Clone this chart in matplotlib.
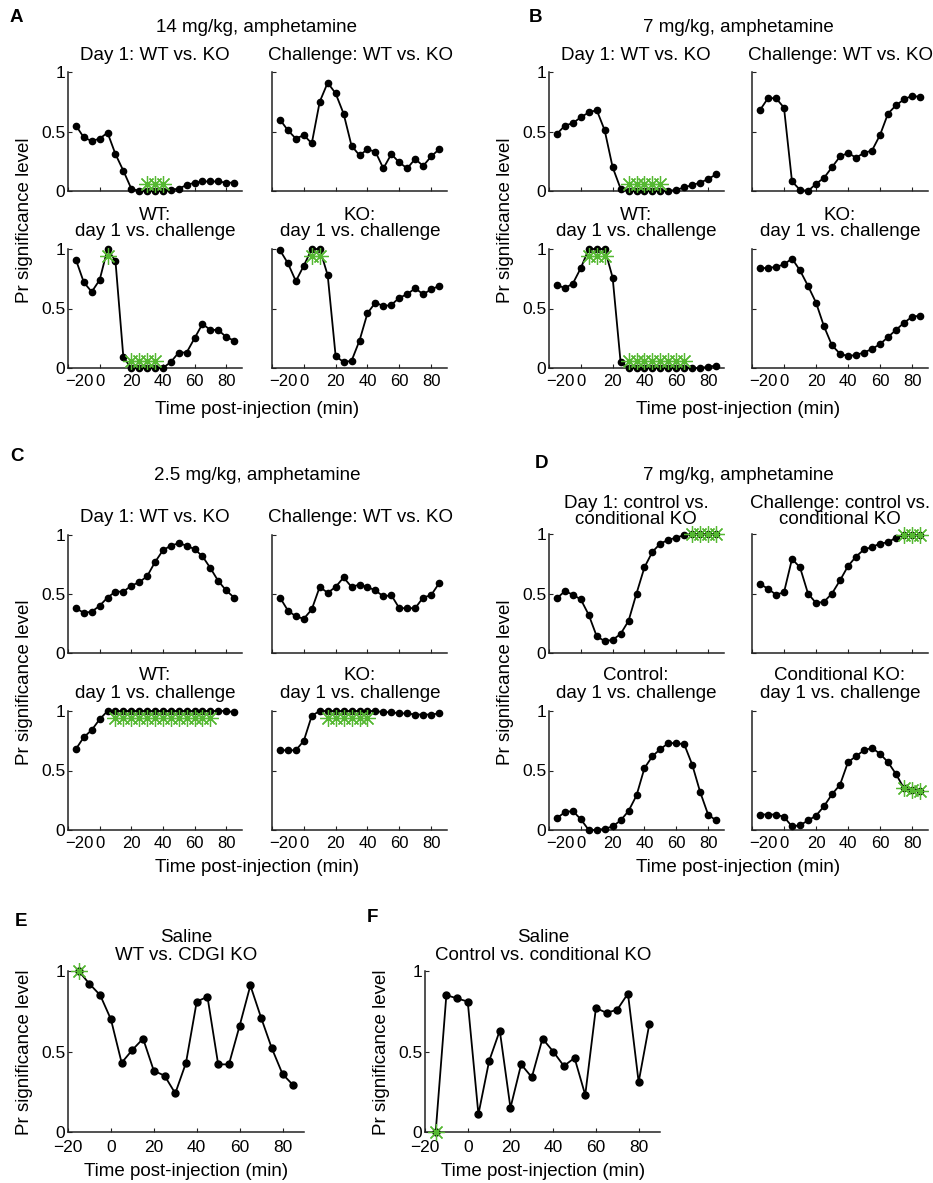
import matplotlib
matplotlib.use('Agg')
import matplotlib.pyplot as plt
from matplotlib.transforms import ScaledTranslation

plt.rcParams['font.family'] = ['Liberation Sans', 'DejaVu Sans']

W, H = 933, 1183
GREEN = '#55b832'

# time points (min post-injection)
t = [-15, -10, -5, 0, 5, 10, 15, 20, 25, 30, 35, 40, 45, 50, 55, 60, 65, 70, 75, 80, 85]

# A: 14 mg/kg amphetamine
a_day1 = [0.55, 0.45, 0.42, 0.44, 0.49, 0.31, 0.17, 0.02, 0.0, 0.0, 0.0, 0.0, 0.01, 0.02, 0.05, 0.07, 0.08, 0.08, 0.08, 0.07, 0.07]
a_chal = [0.60, 0.51, 0.44, 0.47, 0.40, 0.75, 0.91, 0.82, 0.65, 0.38, 0.30, 0.35, 0.33, 0.19, 0.31, 0.24, 0.19, 0.27, 0.21, 0.29, 0.35]
a_wt = [0.91, 0.72, 0.64, 0.74, 1.0, 0.90, 0.09, 0.0, 0.0, 0.0, 0.0, 0.0, 0.05, 0.13, 0.13, 0.25, 0.37, 0.32, 0.32, 0.26, 0.23]
a_ko = [0.99, 0.88, 0.73, 0.86, 1.0, 1.0, 0.78, 0.10, 0.05, 0.06, 0.23, 0.46, 0.55, 0.52, 0.53, 0.59, 0.62, 0.67, 0.62, 0.66, 0.69]
a_day1_sx = [30, 35, 40]
a_day1_sy = [0.06, 0.06, 0.06]
a_wt_sx = [5, 20, 25, 30, 35]
a_wt_sy = [0.94, 0.06, 0.06, 0.06, 0.06]
a_ko_sx = [5, 10]
a_ko_sy = [0.94, 0.94]

# B: 7 mg/kg amphetamine
b_day1 = [0.48, 0.55, 0.57, 0.62, 0.66, 0.68, 0.51, 0.20, 0.02, 0.0, 0.0, 0.0, 0.0, 0.0, 0.0, 0.01, 0.03, 0.05, 0.07, 0.10, 0.14]
b_chal = [0.68, 0.78, 0.78, 0.70, 0.08, 0.01, 0.0, 0.06, 0.11, 0.20, 0.29, 0.32, 0.28, 0.32, 0.34, 0.47, 0.65, 0.72, 0.77, 0.80, 0.79]
b_wt = [0.70, 0.67, 0.71, 0.84, 1.0, 1.0, 1.0, 0.76, 0.05, 0.0, 0.0, 0.0, 0.0, 0.0, 0.0, 0.0, 0.0, 0.0, 0.0, 0.01, 0.02]
b_ko = [0.84, 0.84, 0.85, 0.87, 0.92, 0.82, 0.69, 0.55, 0.35, 0.19, 0.12, 0.10, 0.11, 0.13, 0.16, 0.20, 0.26, 0.32, 0.38, 0.43, 0.44]
b_day1_sx = [30, 35, 40, 45, 50]
b_day1_sy = [0.06, 0.06, 0.06, 0.06, 0.06]
b_wt_sx = [5, 10, 15, 30, 35, 40, 45, 50, 55, 60, 65]
b_wt_sy = [0.94, 0.94, 0.94, 0.06, 0.06, 0.06, 0.06, 0.06, 0.06, 0.06, 0.06]

# C: 2.5 mg/kg amphetamine
c_day1 = [0.38, 0.34, 0.35, 0.40, 0.47, 0.52, 0.52, 0.57, 0.60, 0.65, 0.77, 0.87, 0.91, 0.93, 0.91, 0.88, 0.82, 0.72, 0.61, 0.53, 0.47]
c_chal = [0.47, 0.36, 0.31, 0.29, 0.37, 0.56, 0.51, 0.56, 0.64, 0.56, 0.58, 0.56, 0.53, 0.48, 0.49, 0.38, 0.38, 0.38, 0.47, 0.49, 0.59]
c_wt = [0.68, 0.78, 0.84, 0.93, 1.0, 1.0, 1.0, 1.0, 1.0, 1.0, 1.0, 1.0, 1.0, 1.0, 1.0, 1.0, 1.0, 1.0, 1.0, 1.0, 0.99]
c_ko = [0.67, 0.67, 0.67, 0.75, 0.96, 1.0, 1.0, 1.0, 1.0, 1.0, 1.0, 1.0, 1.0, 0.99, 0.99, 0.98, 0.98, 0.97, 0.97, 0.97, 0.98]
c_wt_sx = [10, 15, 20, 25, 30, 35, 40, 45, 50, 55, 60, 65, 70]
c_wt_sy = [0.94, 0.94, 0.94, 0.94, 0.94, 0.94, 0.94, 0.94, 0.94, 0.94, 0.94, 0.94, 0.94]
c_ko_sx = [15, 20, 25, 30, 35, 40]
c_ko_sy = [0.94, 0.94, 0.94, 0.94, 0.94, 0.94]

# D: 7 mg/kg amphetamine, conditional KO
d_day1 = [0.46, 0.52, 0.49, 0.45, 0.32, 0.14, 0.10, 0.11, 0.16, 0.27, 0.50, 0.72, 0.85, 0.92, 0.95, 0.97, 0.99, 1.0, 1.0, 1.0, 1.0]
d_chal = [0.58, 0.54, 0.49, 0.51, 0.79, 0.72, 0.50, 0.42, 0.43, 0.50, 0.61, 0.73, 0.81, 0.87, 0.89, 0.92, 0.93, 0.97, 0.99, 0.99, 0.99]
d_ctrl = [0.10, 0.15, 0.16, 0.09, 0.0, 0.0, 0.01, 0.03, 0.08, 0.16, 0.29, 0.52, 0.62, 0.68, 0.73, 0.73, 0.72, 0.55, 0.32, 0.13, 0.08]
d_cko = [0.13, 0.13, 0.13, 0.11, 0.03, 0.04, 0.08, 0.12, 0.20, 0.30, 0.38, 0.57, 0.62, 0.67, 0.69, 0.64, 0.57, 0.47, 0.35, 0.34, 0.33]
d_day1_sx = [70, 75, 80, 85]
d_day1_sy = [1.0, 1.0, 1.0, 1.0]
d_chal_sx = [75, 80, 85]
d_chal_sy = [0.99, 0.99, 0.99]
d_cko_sx = [75, 80, 85]
d_cko_sy = [0.35, 0.34, 0.33]

# E, F: saline
e_sal = [1.0, 0.92, 0.85, 0.70, 0.43, 0.51, 0.58, 0.38, 0.35, 0.24, 0.43, 0.81, 0.84, 0.42, 0.42, 0.66, 0.91, 0.71, 0.52, 0.36, 0.29]
f_sal = [0.0, 0.85, 0.83, 0.81, 0.11, 0.44, 0.63, 0.15, 0.42, 0.34, 0.58, 0.50, 0.41, 0.46, 0.23, 0.77, 0.74, 0.76, 0.86, 0.31, 0.67]
e_sx = [-15]
e_sy = [1.0]
f_sx = [-15]
f_sy = [0.0]

fig = plt.figure(figsize=(W / 100, H / 100), dpi=100)


def make_ax(l, top, r, bot):
    return fig.add_axes([l / W, 1 - bot / H, (r - l) / W, (bot - top) / H])


def ftext(x, y, s, **kw):
    kw.setdefault('fontsize', 13.5)
    kw.setdefault('ha', 'center')
    kw.setdefault('va', 'center')
    fig.text(x / W, 1 - y / H, s, **kw)


def panel(box, y, sx=None, sy=None, xlab=True, ylab=True, ms=4.5, big=False):
    ax = make_ax(*box)
    ax.plot(t, y, '-o', color='black', lw=1.3, ms=ms, clip_on=False, zorder=3)
    if sx is not None:
        ax.plot(sx, sy, ls='none', marker=(8, 2, 0), ms=12, mec=GREEN, mew=0.9,
                clip_on=False, zorder=4)
    ax.set_xlim(-20, 90)
    ax.set_ylim(0, 1)
    ax.set_xticks([-20, 0, 20, 40, 60, 80])
    ax.set_yticks([0, 0.5, 1])
    ax.set_yticklabels(['0', '0.5', '1'] if ylab else [])
    if not xlab:
        ax.set_xticklabels([])
    for s in ['top', 'right']:
        ax.spines[s].set_visible(False)
    for s in ['left', 'bottom']:
        ax.spines[s].set_color('#222222')
        ax.spines[s].set_linewidth(1.1)
    ax.tick_params(direction='in', length=3, width=0.8, labelsize=12.5, pad=2,
                   colors='#222222', labelcolor='black')
    ax.tick_params(axis='x', pad=6 if big else 4, labelsize=12 if not big else 12.5)
    if xlab and not big:
        # first x label sits right of the spine, clear of the y "0"
        lab = ax.xaxis.get_major_ticks()[0].label1
        lab.set_transform(lab.get_transform() + ScaledTranslation(0.11, 0, fig.dpi_scale_trans))
    ax.patch.set_alpha(0)
    return ax


# ---- A ----
panel((68, 72, 242, 191), a_day1, a_day1_sx, a_day1_sy, xlab=False)
panel((272, 72, 447, 191), a_chal, xlab=False, ylab=False)
panel((68, 249, 242, 368), a_wt, a_wt_sx, a_wt_sy)
panel((272, 249, 447, 368), a_ko, a_ko_sx, a_ko_sy, ylab=False)
ftext(16, 17, 'A', fontweight='bold', fontsize=13.5)
ftext(257, 28, '14 mg/kg, amphetamine')
ftext(155, 55, 'Day 1: WT vs. KO')
ftext(360, 55, 'Challenge: WT vs. KO')
ftext(155, 215, 'WT:')
ftext(155, 232, 'day 1 vs. challenge')
ftext(360, 215, 'KO:')
ftext(360, 232, 'day 1 vs. challenge')
ftext(257, 409, 'Time post-injection (min)')
ftext(25, 220, 'Pr significance level', rotation=90)

# ---- B ----
panel((549, 72, 724, 191), b_day1, b_day1_sx, b_day1_sy, xlab=False)
panel((752, 72, 928, 191), b_chal, xlab=False, ylab=False)
panel((549, 249, 724, 368), b_wt, b_wt_sx, b_wt_sy)
panel((752, 249, 928, 368), b_ko, ylab=False)
ftext(536, 17, 'B', fontweight='bold', fontsize=13.5)
ftext(738, 28, '7 mg/kg, amphetamine')
ftext(636, 55, 'Day 1: WT vs. KO')
ftext(840, 55, 'Challenge: WT vs. KO')
ftext(636, 215, 'WT:')
ftext(636, 232, 'day 1 vs. challenge')
ftext(840, 215, 'KO:')
ftext(840, 232, 'day 1 vs. challenge')
ftext(738, 409, 'Time post-injection (min)')
ftext(506, 220, 'Pr significance level', rotation=90)

# ---- C ----
panel((68, 535, 242, 653), c_day1, xlab=False)
panel((272, 535, 447, 653), c_chal, xlab=False, ylab=False)
panel((68, 711, 242, 830), c_wt, c_wt_sx, c_wt_sy)
panel((272, 711, 447, 830), c_ko, c_ko_sx, c_ko_sy, ylab=False)
ftext(17, 457, 'C', fontweight='bold', fontsize=13.5)
ftext(257, 475, '2.5 mg/kg, amphetamine')
ftext(155, 518, 'Day 1: WT vs. KO')
ftext(360, 518, 'Challenge: WT vs. KO')
ftext(155, 675, 'WT:')
ftext(155, 693, 'day 1 vs. challenge')
ftext(360, 675, 'KO:')
ftext(360, 693, 'day 1 vs. challenge')
ftext(257, 868, 'Time post-injection (min)')
ftext(25, 682, 'Pr significance level', rotation=90)

# ---- D ----
panel((549, 534, 724, 653), d_day1, d_day1_sx, d_day1_sy, xlab=False)
panel((752, 534, 928, 653), d_chal, d_chal_sx, d_chal_sy, xlab=False, ylab=False)
panel((549, 711, 724, 830), d_ctrl)
panel((752, 711, 928, 830), d_cko, d_cko_sx, d_cko_sy, ylab=False)
ftext(541, 463, 'D', fontweight='bold', fontsize=13.5)
ftext(738, 475, '7 mg/kg, amphetamine')
ftext(636, 503, 'Day 1: control vs.')
ftext(636, 519, 'conditional KO')
ftext(840, 503, 'Challenge: control vs.')
ftext(840, 519, 'conditional KO')
ftext(636, 675, 'Control:')
ftext(636, 693, 'day 1 vs. challenge')
ftext(840, 675, 'Conditional KO:')
ftext(840, 693, 'day 1 vs. challenge')
ftext(738, 868, 'Time post-injection (min)')
ftext(506, 682, 'Pr significance level', rotation=90)

# ---- E ----
panel((68, 971, 304, 1132), e_sal, e_sx, e_sy, ms=5, big=True)
ftext(21, 922, 'E', fontweight='bold', fontsize=13.5)
ftext(186, 937, 'Saline')
ftext(186, 955, 'WT vs. CDGI KO')
ftext(186, 1172, 'Time post-injection (min)')
ftext(25, 1052, 'Pr significance level', rotation=90)

# ---- F ----
panel((425, 971, 660, 1132), f_sal, f_sx, f_sy, ms=5, big=True)
ftext(372, 917, 'F', fontweight='bold', fontsize=13.5)
ftext(543, 937, 'Saline')
ftext(543, 955, 'Control vs. conditional KO')
ftext(543, 1172, 'Time post-injection (min)')
ftext(381, 1052, 'Pr significance level', rotation=90)

fig.savefig('out.png', dpi=100)
